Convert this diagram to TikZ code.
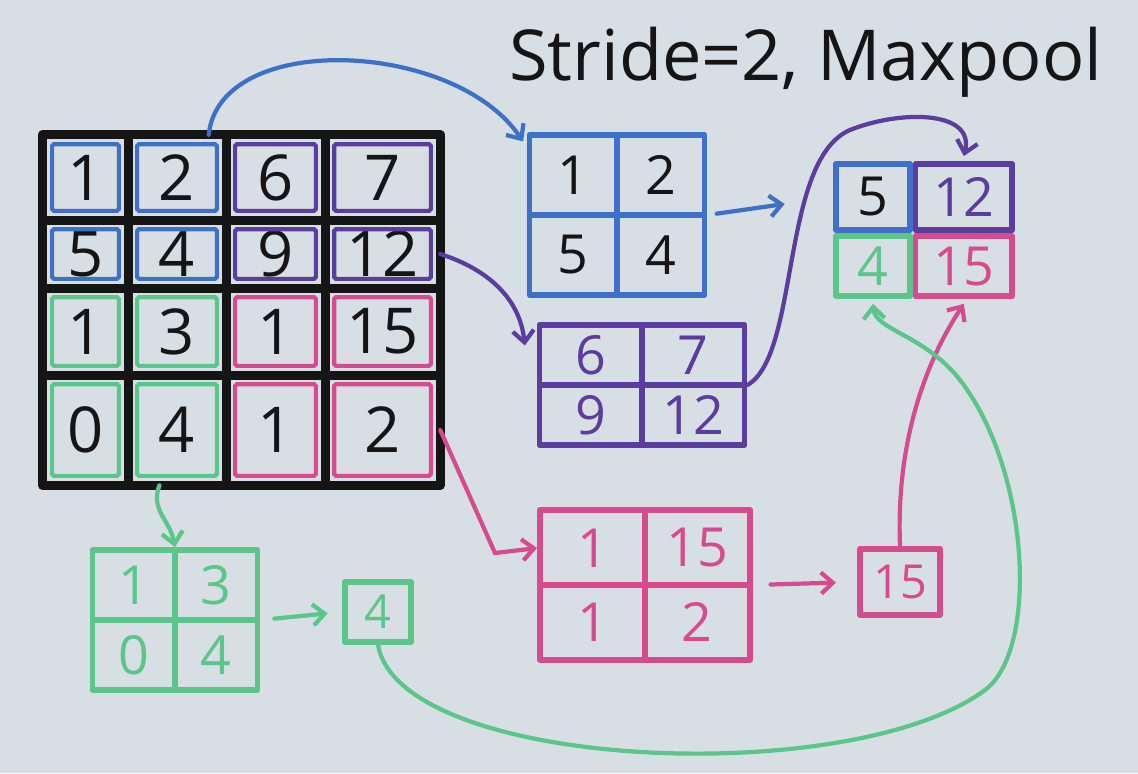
\documentclass[tikz,border=0pt]{standalone}
\usepackage{fontspec}
\setmainfont{Open Sans}
\usepackage{xcolor}
\usepackage{tikz}
\usetikzlibrary{positioning,arrows.meta,calc}
\definecolor{board}   {HTML}{D8DFE4}
\definecolor{ink}     {HTML}{151515}
\definecolor{bluemk}  {HTML}{3F6FC6}
\definecolor{purplemk}{HTML}{5A3D9C}
\definecolor{greenmk} {HTML}{5BC58C}
\definecolor{pinkmk}  {HTML}{D54C8E}

\begin{document}
\begin{tikzpicture}[x=0.03cm,y=-0.03cm,
  grid/.style={draw=ink,line width=8pt,line cap=round,line join=round},
  cell/.style={inner sep=0pt,font=\fontsize{54}{54}\selectfont,text=ink},
  inset/.style={line width=3.6pt,rounded corners=1.5pt},
  pool/.style={draw=#1,line width=5pt,inner sep=0pt,line join=round},
  digit/.style={inner sep=0pt,font=\fontsize{46}{46}\selectfont},
  mini/.style={inner sep=0pt,font=\fontsize{40}{40}\selectfont},
  flow/.style={line width=3.6pt,line cap=round,-{Straight Barb[length=10pt,width=18pt]}}]
  \fill[board] (0,0) rectangle (1138,773);
  \useasboundingbox (0,0) rectangle (1138,773);
  \node[font=\fontsize{60}{60}\selectfont,text=ink,anchor=west] (title) at (505,62) {Stride=2, Maxpool};
  % input feature map
  \foreach \v [count=\k from 0] in {1,2,6,7,5,4,9,12,1,3,1,15,0,4,1,2}{
    \pgfmathsetmacro\cx{{85.5,177,275.5,382.5}[int(mod(\k,4))]}
    \pgfmathsetmacro\cy{{177.5,254,331.5,430}[int(\k/4)]}
    \pgfmathsetmacro\cw{{85,98,99,115}[int(mod(\k,4))]*0.03}
    \pgfmathsetmacro\ch{{85,68,87,110}[int(\k/4)]*0.03}
    \pgfmathtruncatemacro\r{int(\k/4)+1}
    \pgfmathtruncatemacro\c{int(mod(\k,4))+1}
    \node[cell,minimum width=\cw cm,minimum height=\ch cm] (c\r\c) at (\cx,\cy) {\v};}
  \draw[grid] (c11.north west) rectangle (c44.south east);
  \foreach \c in {1,2,3} \draw[grid] (c1\c.north east) -- (c4\c.south east);
  \foreach \r in {1,2,3} \draw[grid] (c\r1.south west) -- (c\r4.south east);
  \foreach \cl/\cells in {bluemk/{11,12,21,22},purplemk/{13,14,23,24},
                          greenmk/{31,32,41,42},pinkmk/{33,34,43,44}}
    \foreach \n in \cells
      \draw[inset,\cl] ([shift={(8pt,-8pt)}]c\n.north west) rectangle ([shift={(-8pt,8pt)}]c\n.south east);
  % pooling windows
  \node[pool=bluemk,minimum width=5.25cm,minimum height=4.8cm] (bluebox) at (617,215) {};
  \draw[pool=bluemk] (bluebox.north) -- (bluebox.south) (bluebox.west) -- (bluebox.east);
  \foreach \v/\dx/\dy [count=\i] in {1/-1/-1,2/1/-1,5/-1/1,4/1/1}
    \node[digit,text=ink] (blue\i) at ($(bluebox)+(\dx*44,\dy*40)$) {\v};
  \node[pool=purplemk,minimum width=6.15cm,minimum height=3.6cm] (purplebox) at (642,385) {};
  \draw[pool=purplemk] (purplebox.north) -- (purplebox.south) (purplebox.west) -- (purplebox.east);
  \foreach \v/\dx/\dy [count=\i] in {6/-1/-1,7/1/-1,9/-1/1,12/1/1}
    \node[digit,text=purplemk] (purple\i) at ($(purplebox)+(\dx*51,\dy*30)$) {\v};
  \node[pool=pinkmk,minimum width=6.3cm,minimum height=4.5cm] (pinkbox) at (645,585) {};
  \draw[pool=pinkmk] (pinkbox.north) -- (pinkbox.south) (pinkbox.west) -- (pinkbox.east);
  \foreach \v/\dx/\dy [count=\i] in {1/-1/-1,15/1/-1,1/-1/1,2/1/1}
    \node[digit,text=pinkmk] (pink\i) at ($(pinkbox)+(\dx*52,\dy*37)$) {\v};
  \node[pool=greenmk,minimum width=4.95cm,minimum height=4.2cm] (greenbox) at (175,620) {};
  \draw[pool=greenmk] (greenbox.north) -- (greenbox.south) (greenbox.west) -- (greenbox.east);
  \foreach \v/\dx/\dy [count=\i] in {1/-1/-1,3/1/-1,0/-1/1,4/1/1}
    \node[digit,text=greenmk] (green\i) at ($(greenbox)+(\dx*41,\dy*35)$) {\v};
  % maxima
  \node[pool=greenmk,mini,text=greenmk,minimum width=2cm,minimum height=1.8cm] (max4) at (378,612) {4};
  \node[pool=pinkmk,mini,text=pinkmk,minimum width=2.4cm,minimum height=2cm] (max15) at (900,582) {15};
  % output
  \node[pool=bluemk,digit,text=ink,minimum width=2.2cm,minimum height=2cm] (out5) at (873,197) {5};
  \node[pool=purplemk,digit,text=purplemk,minimum width=2.9cm,minimum height=2cm,right=0pt of out5] (out12) {12};
  \node[pool=greenmk,digit,text=greenmk,minimum width=2.2cm,minimum height=1.8cm,below=0pt of out5] (out4) {4};
  \node[pool=pinkmk,digit,text=pinkmk,minimum width=2.9cm,minimum height=1.8cm,right=0pt of out4] (out15) {15};
  % arrows
  \draw[flow,bluemk] ([xshift=-15pt]c12.north east) .. controls (220,30) and (455,40) .. ([shift={(-3pt,-8pt)}]bluebox.north west);
  \draw[flow,bluemk,shorten <=8pt,shorten >=42pt] (bluebox.east) -- (out5.west);
  \draw[flow,purplemk] (c24.east) .. controls (490,270) and (520,300) .. ([shift={(-10pt,-20pt)}]purplebox.north west);
  \draw[flow,purplemk] (purplebox.east) .. controls (800,355) and (780,160) .. (850,130)
       .. controls (900,110) and (975,110) .. ([yshift=4pt]out12.north);
  \draw[flow,pinkmk] (c44.east) -- (495,553) -- ([yshift=-35pt]pinkbox.north west);
  \draw[flow,pinkmk,shorten <=15pt,shorten >=18pt] (pinkbox.east) -- (max15.west);
  \draw[flow,pinkmk] (max15.north) .. controls (895,420) and (940,340) .. ([yshift=-4pt]out15.south);
  \draw[flow,greenmk] ([xshift=-15pt]c42.south) .. controls (150,510) and (170,520) .. (greenbox.north);
  \draw[flow,greenmk,shorten <=12pt,shorten >=12pt] (greenbox.east) -- (max4.west);
  \draw[flow,greenmk] (max4.south) .. controls (400,770) and (850,790) .. (985,690)
       .. controls (1039,650) and (1030,470) .. (960,380)
       .. controls (925,335) and (875,330) .. ([yshift=-4pt]out4.south);
\end{tikzpicture}
\end{document}
